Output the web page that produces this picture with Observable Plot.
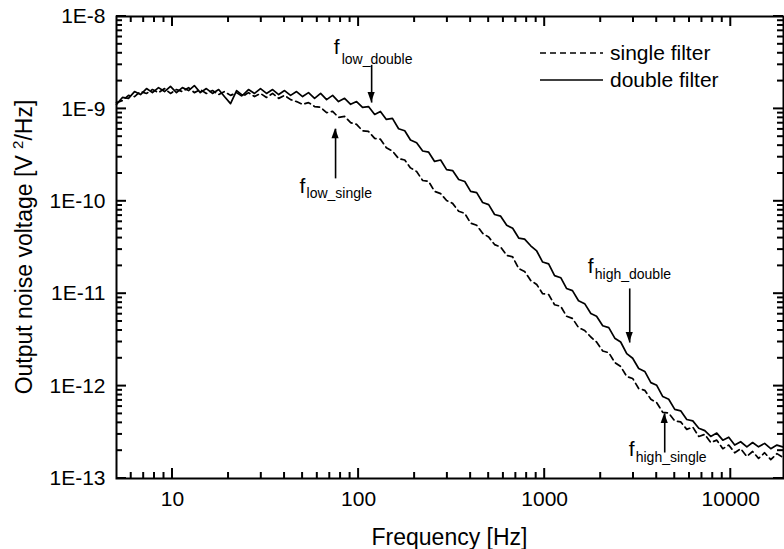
<!DOCTYPE html>
<html><head><meta charset="utf-8">
<script src="https://cdn.jsdelivr.net/npm/d3@7"></script>
<script src="https://cdn.jsdelivr.net/npm/@observablehq/plot@0.6"></script>
<style>
html,body{margin:0;padding:0;background:#fff;}
#chart{width:784px;height:549px;overflow:hidden;}
</style></head><body><div id="chart"></div>
<script>
// ---- data ----
const frequencies = [5.00,5.38,5.80,6.25,6.73,7.25,7.80,8.41,9.06,9.75,
  10.5,11.3,12.2,13.1,14.1,15.2,16.4,17.7,19.0,20.5,22.1,23.8,25.6,27.6,29.7,32.0,34.5,37.2,40.0,43.1,46.4,
  50.0,53.8,58.0,62.5,67.3,72.5,78.0,84.1,90.6,97.5,
  105,113,122,131,141,152,164,177,190,205,221,238,256,276,297,320,345,372,400,431,464,
  500,538,580,625,673,725,780,841,906,975,
  1050,1130,1220,1310,1410,1520,1640,1770,1900,2050,2210,2380,2560,2760,2970,3200,3450,3720,4000,4310,4640,
  5000,5380,5800,6250,6730,7250,7800,8410,9060,9750,
  10500,11300,12200,13100,14100,15200,16400,17700,19000];

const doubleFilter = [1.12e-9,1.33e-9,1.30e-9,1.54e-9,1.43e-9,1.66e-9,1.50e-9,1.70e-9,1.54e-9,1.75e-9,
  1.50e-9,1.70e-9,1.58e-9,1.79e-9,1.50e-9,1.66e-9,1.47e-9,1.62e-9,1.36e-9,1.14e-9,
  1.58e-9,1.40e-9,1.62e-9,1.47e-9,1.66e-9,1.47e-9,1.62e-9,1.43e-9,1.58e-9,1.40e-9,
  1.54e-9,1.36e-9,1.50e-9,1.30e-9,1.47e-9,1.26e-9,1.40e-9,1.20e-9,1.30e-9,1.12e-9,
  1.20e-9,1.04e-9,1.06e-9,8.7e-10,9.4e-10,7.7e-10,7.9e-10,6.1e-10,5.8e-10,4.6e-10,
  4.3e-10,3.5e-10,3.4e-10,2.7e-10,2.8e-10,2.2e-10,2.15e-10,1.72e-10,1.64e-10,1.28e-10,
  1.24e-10,9.7e-11,9.2e-11,7.2e-11,6.9e-11,5.5e-11,5.1e-11,4.0e-11,3.9e-11,3.3e-11,
  2.9e-11,2.2e-11,2.1e-11,1.57e-11,1.49e-11,1.14e-11,1.08e-11,8.4e-12,7.8e-12,6.1e-12,
  5.7e-12,4.5e-12,4.3e-12,3.3e-12,3.0e-12,2.25e-12,2.0e-12,1.55e-12,1.44e-12,1.09e-12,
  1.02e-12,7.7e-13,7.2e-13,5.6e-13,5.4e-13,4.35e-13,4.2e-13,3.5e-13,3.3e-13,2.85e-13,
  3.1e-13,2.6e-13,2.8e-13,2.3e-13,2.5e-13,2.2e-13,2.45e-13,2.2e-13,2.4e-13,2.1e-13,
  2.3e-13,2.2e-13];

const singleFilter = [1.17e-9,1.23e-9,1.40e-9,1.36e-9,1.54e-9,1.47e-9,1.62e-9,1.50e-9,1.66e-9,1.47e-9,
  1.62e-9,1.54e-9,1.70e-9,1.50e-9,1.62e-9,1.47e-9,1.58e-9,1.43e-9,1.54e-9,1.40e-9,
  1.50e-9,1.36e-9,1.50e-9,1.36e-9,1.47e-9,1.33e-9,1.47e-9,1.30e-9,1.40e-9,1.26e-9,
  1.20e-9,1.12e-9,1.17e-9,1.06e-9,1.04e-9,9.1e-10,9.4e-10,8.1e-10,8.3e-10,7.1e-10,
  6.8e-10,5.8e-10,5.7e-10,4.8e-10,4.7e-10,3.8e-10,3.5e-10,2.9e-10,2.8e-10,2.3e-10,
  2.1e-10,1.68e-10,1.64e-10,1.28e-10,1.21e-10,1.02e-10,9.5e-11,7.8e-11,7.4e-11,5.8e-11,
  5.5e-11,4.5e-11,4.1e-11,3.4e-11,3.2e-11,2.6e-11,2.5e-11,1.87e-11,1.74e-11,1.39e-11,
  1.26e-11,1.00e-11,9.8e-12,7.6e-12,7.3e-12,5.7e-12,5.4e-12,4.3e-12,4.0e-12,3.4e-12,
  3.0e-12,2.4e-12,2.3e-12,1.8e-12,1.63e-12,1.27e-12,1.21e-12,9.4e-13,9.0e-13,7.2e-13,
  6.6e-13,5.2e-13,5.1e-13,4.2e-13,4.1e-13,3.4e-13,3.6e-13,2.85e-13,3.0e-13,2.45e-13,
  2.6e-13,2.1e-13,2.3e-13,1.9e-13,2.1e-13,1.73e-13,1.96e-13,1.65e-13,1.9e-13,1.6e-13,
  1.86e-13,1.7e-13];

const xTickValues = [10, 100, 1000, 10000];
const xTickLabels = ["10", "100", "1000", "10000"];
const yTickValues = [1e-13, 1e-12, 1e-11, 1e-10, 1e-9, 1e-8];
const yTickLabels = ["1E-13", "1E-12", "1E-11", "1E-10", "1E-9", "1E-8"];

const seriesNames = ["single filter", "double filter"];
const annotationLabels = ["low_double", "low_single", "high_double", "high_single"];
const annotationFreqs = [117.5, 75.2, 2864, 4416];
const annotationTail = [3.0e-9, 1.77e-10, 1.14e-11, 1.91e-13];
const annotationTip = [1.17e-9, 6.1e-10, 2.96e-12, 5.05e-13];

// ---- layout / style ----
const FONT = "Liberation Sans, Arial, Helvetica, sans-serif";
const W = 784, H = 549;
const mL = 116, mR = 1, mT = 16, mB = 71;
const labelOffsets = [
  {fdx: -38, fdy: -17.7, sdx: -30, sdy: -5.5},
  {fdx: -36, fdy: 8.3, sdx: -29, sdy: 15.5},
  {fdx: -42, fdy: -21.7, sdx: -35, sdy: -13.5},
  {fdx: -36, fdy: -3.7, sdx: -29, sdy: 4.5}
];

const single = frequencies.map((f, i) => ({f, v: singleFilter[i]}));
const dbl = frequencies.map((f, i) => ({f, v: doubleFilter[i]}));
const ann = annotationLabels.map((label, i) => ({label, f: annotationFreqs[i], tail: annotationTail[i], tip: annotationTip[i], ...labelOffsets[i]}));

const xDomain = [5, 19200];
const yDomain = [1e-13, 1e-8];
const xMinor = [1, 10, 100, 1000, 10000].flatMap(p => [2,3,4,5,6,7,8,9].map(m => m * p)).filter(v => v > xDomain[0] && v < xDomain[1] && !xTickValues.includes(v));
const yMinor = [1e-13, 1e-12, 1e-11, 1e-10, 1e-9].flatMap(p => [2,3,4,5,6,7,8,9].map(m => m * p));

const plot = Plot.plot({
  width: W, height: H,
  marginLeft: mL, marginRight: mR, marginTop: mT, marginBottom: mB,
  style: {fontFamily: FONT, fontSize: "21px"},
  x: {type: "log", domain: xDomain, axis: null},
  y: {type: "log", domain: yDomain, axis: null},
  marks: [
    Plot.frame({stroke: "black", strokeWidth: 2}),
    Plot.axisX(xTickValues, {anchor: "bottom", tickSize: 0, tickPadding: 13, label: null, fontSize: 21,
      tickFormat: d => xTickLabels[xTickValues.indexOf(d)]}),
    Plot.axisY(yTickValues, {anchor: "left", tickSize: 0, tickPadding: 11, label: null, fontSize: 21,
      tickFormat: d => yTickLabels[yTickValues.indexOf(d)]}),
    // curves
    Plot.line(single, {x: "f", y: "v", stroke: "black", strokeWidth: 1.7, strokeDasharray: "6,4"}),
    Plot.line(dbl, {x: "f", y: "v", stroke: "black", strokeWidth: 1.7}),
    // annotation arrow shafts
    Plot.link(ann, {x1: "f", x2: "f", y1: "tail", y2: "tip", stroke: "black", strokeWidth: 1.6}),
    // annotation text
    ...ann.map(a => Plot.text([a], {x: "f", y: "tail", text: () => "f", dx: a.fdx, dy: a.fdy, textAnchor: "start", fontSize: 21, fontFamily: FONT})),
    ...ann.map(a => Plot.text([a], {x: "f", y: "tail", text: "label", dx: a.sdx, dy: a.sdy, textAnchor: "start", fontSize: 14, fontFamily: FONT}))
  ]
});

const svg = d3.select(plot);
const X = plot.scale("x"), Y = plot.scale("y");
const pLeft = mL, pRight = W - mR, pTop = mT, pBottom = H - mB;
const MAJ = 10, MIN = 6;
const tickG = svg.append("g");
function addTick(xa, ya, xb, yb) {
  tickG.append("line").attr("x1", xa).attr("y1", ya).attr("x2", xb).attr("y2", yb)
    .attr("stroke", "black").attr("stroke-width", 2);
}
xTickValues.forEach(v => { const px = X.apply(v); addTick(px, pBottom, px, pBottom - MAJ); addTick(px, pTop, px, pTop + MAJ); });
xMinor.forEach(v => { const px = X.apply(v); addTick(px, pBottom, px, pBottom - MIN); addTick(px, pTop, px, pTop + MIN); });
yTickValues.forEach(v => { const py = Y.apply(v); addTick(pLeft, py, pLeft + MAJ, py); addTick(pRight, py, pRight - MAJ, py); });
yMinor.forEach(v => { const py = Y.apply(v); addTick(pLeft, py, pLeft + MIN, py); addTick(pRight, py, pRight - MIN, py); });

// arrowheads (filled), tip exactly at the arrow end
ann.forEach(a => {
  const px = X.apply(a.f), tipY = Y.apply(a.tip), tailY = Y.apply(a.tail);
  const dir = tailY > tipY ? 1 : -1;
  const L = 10, hw = 3.6;
  svg.append("path").attr("fill", "black").attr("stroke", "none")
    .attr("d", `M${px},${tipY}L${px - hw},${tipY + dir * L}L${px + hw},${tipY + dir * L}Z`);
});

// legend
const legend = svg.append("g").attr("font-family", FONT).attr("font-size", 21).attr("text-anchor", "start");
[[53, "6,4", seriesNames[0]], [80, null, seriesNames[1]]].forEach(([y, dash, name]) => {
  const ln = legend.append("line").attr("x1", 540).attr("x2", 603).attr("y1", y).attr("y2", y)
    .attr("stroke", "black").attr("stroke-width", 1.7);
  if (dash) ln.attr("stroke-dasharray", dash);
  legend.append("text").attr("x", 610).attr("y", y + 7).attr("fill", "black").text(name);
});
// axis titles
svg.append("text").attr("x", (pLeft + pRight) / 2).attr("y", 545).attr("text-anchor", "middle")
  .attr("font-family", FONT).attr("font-size", 23).attr("fill", "black").text("Frequency [Hz]");
const yt = svg.append("text").attr("transform", `translate(32,${(pTop + pBottom) / 2}) rotate(-90)`)
  .attr("text-anchor", "middle").attr("font-family", FONT).attr("font-size", 23).attr("fill", "black");
yt.append("tspan").text("Output noise voltage [V ");
yt.append("tspan").attr("font-size", 15).attr("dy", -9).text("2");
yt.append("tspan").attr("dy", 9).text("/Hz]");

document.getElementById("chart").appendChild(plot);
</script></body></html>
